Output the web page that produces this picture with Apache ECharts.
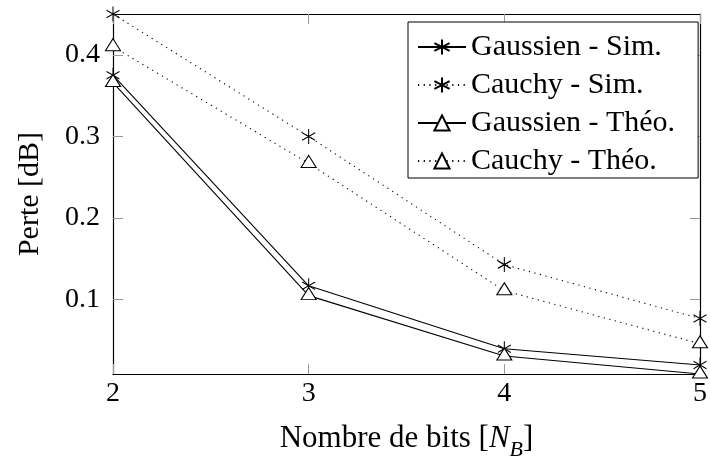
<!DOCTYPE html>
<html><head><meta charset="utf-8">
<script src="https://cdn.jsdelivr.net/npm/echarts@6/dist/echarts.min.js"></script>
<style>html,body{margin:0;padding:0;background:#fff}#c{width:710px;height:466px}</style>
</head><body><div id="c"></div>
<script>
const bits = [2, 3, 4, 5];
const gaussSim = [0.375, 0.117, 0.040, 0.020];
const cauchySim = [0.450, 0.300, 0.143, 0.077];
const gaussTheo = [0.366, 0.105, 0.031, 0.009];
const cauchyTheo = [0.410, 0.267, 0.111, 0.046];
const xTicks = [2, 3, 4, 5];
const yTicks = [0.1, 0.2, 0.3, 0.4];
const seriesNames = ['Gaussien - Sim.', 'Cauchy - Sim.', 'Gaussien - Théo.', 'Cauchy - Théo.'];

const FONT = 'Liberation Serif';
const FS_TICK = 28;
const FS = 30;
const all = gaussSim.concat(cauchySim, gaussTheo, cauchyTheo);
const yMin = Math.min.apply(null, all);
const yMax = Math.max.apply(null, all);
const STAR = 'path://M0,-1L0,1M-0.866,-0.5L0.866,0.5M-0.866,0.5L0.866,-0.5';

function pts(arr) { return bits.map((b, i) => [b, arr[i]]); }

function mkSeries(name, arr, star, dotted) {
  return {
    name: name, type: 'line', data: pts(arr), clip: false,
    xAxisIndex: 0, yAxisIndex: 0,
    symbol: star ? STAR : 'triangle',
    symbolSize: star ? [13, 15] : [15, 12],
    symbolOffset: star ? [0, 0] : [0, -2],
    showAllSymbol: true,
    lineStyle: { color: '#000', width: 1.1, type: dotted ? [1.2, 4.5] : 'solid' },
    itemStyle: star ? { color: '#000', borderColor: '#000', borderWidth: 1.1 }
                    : { color: '#fff', borderColor: '#000', borderWidth: 1.1 },
    emphasis: { disabled: true },
    animation: false
  };
}

const tickStyle = { show: true, inside: true, length: 10, lineStyle: { color: '#999', width: 1 } };
const axisLineStyle = { show: true, lineStyle: { color: '#000', width: 1.2 } };

const chart = echarts.init(document.getElementById('c'), null, { renderer: 'canvas' });
chart.setOption({
  animation: false,
  backgroundColor: '#fff',
  grid: { left: 113, right: 1, top: 14, bottom: 79, containLabel: false },
  legend: {
    orient: 'vertical', left: 408, top: 22,
    itemWidth: 48, itemHeight: 19, itemGap: 8,
    padding: [10, 23, 2, 9],
    backgroundColor: '#fff', borderColor: '#000', borderWidth: 1, borderRadius: 0,
    textStyle: { fontFamily: FONT, fontSize: FS, color: '#000' },
    data: seriesNames
  },
  xAxis: [{
    type: 'value', min: xTicks[0], max: xTicks[xTicks.length - 1], interval: 1,
    position: 'bottom',
    axisLine: axisLineStyle, axisTick: tickStyle, splitLine: { show: false },
    axisLabel: { fontFamily: FONT, fontSize: FS_TICK, color: '#000', margin: 6, formatter: v => String(v) },
    name: 'Nombre de bits [{it|N}{sub|B}]', nameLocation: 'middle', nameGap: 49,
    nameTextStyle: {
      fontFamily: FONT, fontSize: 31, color: '#000',
      rich: {
        it: { fontFamily: FONT, fontSize: 31, fontStyle: 'italic', color: '#000' },
        sub: { fontFamily: FONT, fontSize: 22, fontStyle: 'italic', color: '#000', verticalAlign: 'bottom', padding: [0, 0, -7, 0] }
      }
    }
  }, {
    type: 'value', min: xTicks[0], max: xTicks[xTicks.length - 1], interval: 1,
    position: 'top',
    axisLine: axisLineStyle, axisTick: tickStyle, splitLine: { show: false },
    axisLabel: { show: false }
  }],
  yAxis: [{
    type: 'value', min: yMin, max: yMax, position: 'left',
    axisLine: axisLineStyle,
    axisTick: Object.assign({}, tickStyle, { customValues: yTicks }),
    splitLine: { show: false },
    axisLabel: { fontFamily: FONT, fontSize: FS_TICK, color: '#000', margin: 13, customValues: yTicks, formatter: v => v.toFixed(1) },
    name: 'Perte [dB]', nameLocation: 'middle', nameGap: 68,
    nameTextStyle: { fontFamily: FONT, fontSize: FS, color: '#000' }
  }, {
    type: 'value', min: yMin, max: yMax, position: 'right',
    axisLine: axisLineStyle,
    axisTick: Object.assign({}, tickStyle, { customValues: yTicks }),
    splitLine: { show: false },
    axisLabel: { show: false, customValues: yTicks }
  }],
  series: [
    mkSeries(seriesNames[0], gaussSim, true, false),
    mkSeries(seriesNames[1], cauchySim, true, true),
    mkSeries(seriesNames[2], gaussTheo, false, false),
    mkSeries(seriesNames[3], cauchyTheo, false, true)
  ]
});
</script></body></html>
